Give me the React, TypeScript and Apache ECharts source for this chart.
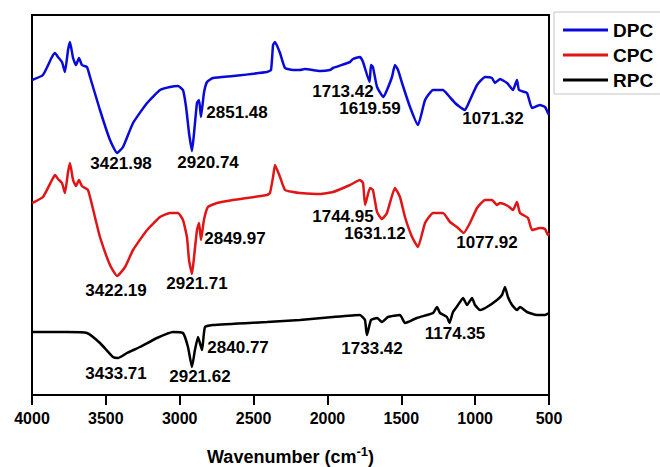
import React, { useEffect, useRef } from "react";
import * as echarts from "echarts";

// Wavenumber (cm-1) and relative transmittance (arbitrary offset units)
const dpcX = [4000,3926,3865,3844,3824,3797,3777,3756,3743,3722,3702,3682,3662,3628,3607,3540,3472,3424,3384,3316,3221,3133,3066,3012,2978,2957,2937,2917,2903,2883,2869,2856,2836,2815,2775,2639,2409,2382,2368,2355,2321,2287,2233,2186,2152,2050,1983,1962,1847,1827,1780,1759,1715,1705,1692,1664,1621,1597,1563,1543,1522,1495,1441,1387,1339,1285,1218,1184,1136,1103,1069,1035,987,933,886,866,832,784,744,717,703,649,615,561,527,507,500];
const dpcY = [315,320,338,342,338,333,323,345,353,337,330,337,330,328,318,285,255,242,248,272,292,305,308,309,305,288,262,244,262,292,295,278,302,313,317,319,323,325,350,353,342,327,325,325,326,324,325,327,333,336,338,333,313,330,328,308,298,305,318,330,325,312,288,270,295,305,305,300,292,288,285,295,310,318,317,312,316,312,305,315,305,302,287,290,288,282,280];

const cpcX = [4000,3926,3865,3844,3824,3797,3777,3756,3743,3722,3702,3682,3662,3621,3574,3540,3472,3424,3370,3316,3221,3133,3066,3012,2978,2951,2937,2917,2903,2883,2869,2856,2836,2809,2748,2639,2409,2389,2368,2355,2321,2287,2233,2186,2050,1962,1847,1780,1759,1745,1712,1692,1664,1631,1597,1543,1509,1475,1427,1387,1339,1285,1218,1170,1123,1078,1035,987,933,886,852,832,778,744,717,696,642,615,561,527,507,500];
const cpcY = [192,198,215,220,216,212,202,223,232,215,209,215,209,205,178,158,130,119,128,145,165,178,182,182,175,158,135,121,138,165,172,155,175,188,192,195,200,202,218,230,218,205,203,202,201,203,210,215,212,190,207,205,183,176,182,207,198,178,158,148,172,182,182,173,168,162,172,187,195,195,190,192,189,185,193,182,177,165,167,166,160,162];

const rpcX = [4000,3763,3628,3540,3452,3418,3357,3269,3154,3045,2978,2944,2917,2897,2876,2849,2829,2775,2409,2186,1962,1780,1746,1733,1705,1664,1631,1590,1509,1475,1455,1394,1326,1285,1258,1238,1191,1174,1150,1116,1082,1055,1021,1001,967,920,852,818,798,778,750,717,696,649,581,527,500];
const rpcY = [63,63,62,52,38,37,42,48,57,63,62,48,28,45,58,45,68,70,73,75,78,80,75,60,75,77,73,78,80,72,73,77,80,82,88,82,78,72,83,90,97,90,97,90,85,88,95,100,108,98,90,85,88,83,80,80,82];

const seriesNames = ["DPC", "CPC", "RPC"];
const seriesColors = ["#0a0ad8", "#e01515", "#000000"];

// Peak annotations: text, label centre (wavenumber, offset units)
const peakLabels = ["3421.98","2920.74","2851.48","1713.42","1619.59","1071.32","3422.19","2921.71","2849.97","1744.95","1631.12","1077.92","3433.71","2921.62","2840.77","1733.42","1174.35"];
const peakLabelX = [3397,2808,2612,1895,1712,879,3431,2883,2626,1895,1678,920,3431,2863,2605,1698,1136];
const peakLabelY = [232,233,283,304,287,277,105,112,157,179,162,153,22,19,48,47,62];

const xTicks = [4000, 3500, 3000, 2500, 2000, 1500, 1000, 500];

const FONT = "'Liberation Sans', Arial, sans-serif";

export default function App() {
  const ref = useRef<HTMLDivElement>(null);
  useEffect(() => {
    if (!ref.current) return;
    const chart = echarts.init(ref.current, null, { renderer: "svg" });
    const toPairs = (xs: number[], ys: number[]) => xs.map((x, i) => [x, ys[i]]);
    const lines = [toPairs(dpcX, dpcY), toPairs(cpcX, cpcY), toPairs(rpcX, rpcY)];
    chart.setOption({
      animation: false,
      grid: {
        left: 32,
        right: 111,
        top: 15,
        bottom: 72,
        outerBoundsMode: "none",
        containLabel: false,
        show: true,
        borderColor: "#000",
        borderWidth: 2,
        backgroundColor: "transparent",
      },
      legend: {
        data: seriesNames,
        orient: "vertical",
        left: 554,
        top: 12,
        padding: [8, 14, 4, 9],
        itemGap: 5,
        itemWidth: 45,
        itemHeight: 3,
        icon: "rect",
        borderColor: "#c4c4c4",
        borderWidth: 1,
        textStyle: { fontSize: 19, fontWeight: "bold", color: "#000", fontFamily: FONT, lineHeight: 20 },
      },
      xAxis: {
        type: "value",
        inverse: true,
        min: 500,
        max: 4000,
        interval: 500,
        name: "{a|Wavenumber (cm}{s|-1}{a|)}",
        nameLocation: "middle",
        nameGap: 50,
        nameTextStyle: {
          rich: {
            a: { fontSize: 18, fontWeight: "bold", color: "#000", fontFamily: FONT, lineHeight: 24 },
            s: { fontSize: 13, fontWeight: "bold", color: "#000", fontFamily: FONT, verticalAlign: "top", lineHeight: 14 },
          },
        },
        axisLine: { show: true, lineStyle: { color: "#000", width: 2 } },
        axisTick: { show: true, inside: false, length: 10, lineStyle: { color: "#000", width: 2 } },
        axisLabel: {
          margin: 15,
          fontSize: 16,
          fontWeight: "bold",
          color: "#000",
          fontFamily: FONT,
          formatter: (v: number) => (xTicks.includes(v) ? String(v) : ""),
        },
        splitLine: { show: false },
      },
      yAxis: {
        type: "value",
        min: 0,
        max: 380,
        show: false,
        splitLine: { show: false },
      },
      series: [
        ...seriesNames.map((name, i) => ({
          name,
          type: "line",
          data: lines[i],
          showSymbol: false,
          symbol: "none",
          smooth: 0.15,
          lineStyle: { color: seriesColors[i], width: 2.5 },
          itemStyle: { color: seriesColors[i] },
          silent: true,
        })),
        {
          name: "peaks",
          type: "scatter",
          symbolSize: 0,
          silent: true,
          itemStyle: { opacity: 1 },
          data: peakLabels.map((t, i) => [peakLabelX[i], peakLabelY[i], t]),
          label: {
            show: true,
            position: "inside",
            formatter: (p: any) => p.value[2],
            fontSize: 17,
            fontWeight: "bold",
            color: "#000",
            opacity: 1,
            textBorderWidth: 0,
            fontFamily: FONT,
          },
        },
      ],
    });
    return () => chart.dispose();
  }, []);
  return (
    <div
      ref={ref}
      style={{ position: "fixed", left: 0, top: 0, width: 660, height: 467, background: "#fff" }}
    />
  );
}
